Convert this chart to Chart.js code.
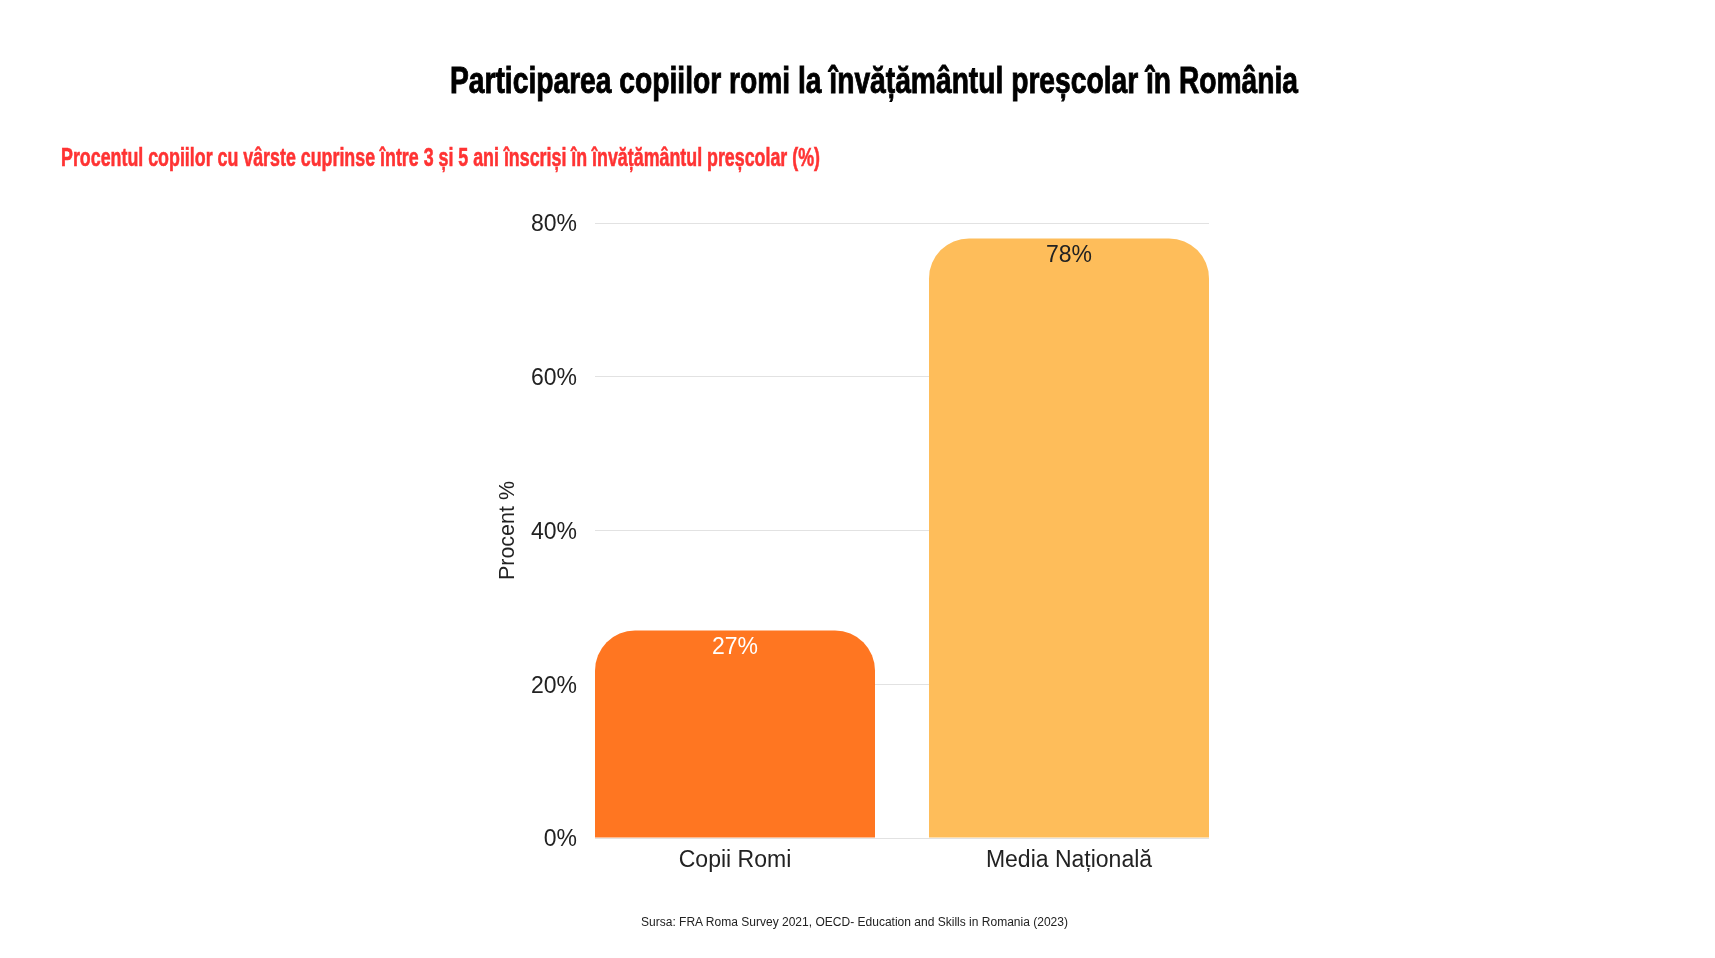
<!DOCTYPE html>
<html>
<head>
<meta charset="utf-8">
<script src="https://cdn.jsdelivr.net/npm/chart.js@4"></script>
<style>
  html, body { margin:0; padding:0; background:#fff; width:1715px; height:958px; overflow:hidden; }
  #wrap { position:relative; width:1715px; height:958px; }
  canvas { position:absolute; left:0; top:0; }
  .txt { position:absolute; white-space:nowrap; transform-origin:0 0; line-height:1; }
  #title { font-family:"Liberation Sans Narrow","Liberation Sans",Arial,sans-serif; font-weight:bold; font-size:37px; color:#000; -webkit-text-stroke:0.9px #000; left:450px; top:62px; }
  #subtitle { font-family:"Liberation Sans Narrow","Liberation Sans",Arial,sans-serif; font-weight:bold; font-size:26px; color:#ff3333; -webkit-text-stroke:0.6px #ff3333; left:61px; top:144px; }
  #source { font-family:"Liberation Sans",Arial,sans-serif; font-size:12.5px; color:#222; left:641px; top:916px; }
</style>
</head>
<body>
<div id="wrap">
  <canvas id="c" width="1715" height="958"></canvas>
  <div id="title" class="txt">Participarea copiilor romi la învățământul preșcolar în România</div>
  <div id="subtitle" class="txt">Procentul copiilor cu vârste cuprinse între 3 și 5 ani înscriși în învățământul preșcolar (%)</div>
  <div id="source" class="txt">Sursa: FRA Roma Survey 2021, OECD- Education and Skills in Romania (2023)</div>
</div>
<script>
// ---- data ----
const categories = ["Copii Romi", "Media Națională"];
const values = [27, 78];
const barColors = ["#ff7621", "#febd5a"];
const labelColors = ["#ffffff", "#222222"];
const yTicks = [0, 20, 40, 60, 80];

// fit header texts to measured widths
function fitWidth(id, target) {
  const el = document.getElementById(id);
  const w = el.getBoundingClientRect().width;
  el.style.transform = 'scaleX(' + (target / w) + ')';
}
fitWidth('title', 848);
fitWidth('subtitle', 759);
fitWidth('source', 427);

const barFrac = 280 / 334;
const half = barFrac / 2;

const valueLabels = {
  id: 'valueLabels',
  afterDatasetsDraw(chart) {
    const ctx = chart.ctx;
    const meta = chart.getDatasetMeta(0);
    ctx.save();
    ctx.font = '23px "Liberation Sans", Arial, sans-serif';
    ctx.textAlign = 'center';
    ctx.textBaseline = 'middle';
    meta.data.forEach((bar, i) => {
      ctx.fillStyle = labelColors[i];
      ctx.fillText(values[i] + '%', bar.x, bar.y + 17);
    });
    ctx.restore();
  }
};

new Chart(document.getElementById('c'), {
  type: 'bar',
  data: {
    datasets: [{
      data: values.map((v, i) => ({ x: i, y: v })),
      backgroundColor: barColors,
      borderWidth: 0,
      borderRadius: 40,
      borderSkipped: 'start',
      categoryPercentage: 1,
      barPercentage: barFrac
    }]
  },
  options: {
    responsive: false,
    animation: false,
    devicePixelRatio: 1,
    layout: { padding: { left: 492, right: 506, top: 223, bottom: 60 } },
    plugins: { legend: { display: false }, tooltip: { enabled: false }, title: { display: false } },
    scales: {
      x: {
        type: 'linear',
        offset: false,
        min: -half,
        max: 1 + half,
        afterBuildTicks: axis => { axis.ticks = categories.map((c, i) => ({ value: i })); },
        afterFit: axis => { axis.height = 60; },
        grid: { display: false },
        border: { display: false },
        ticks: {
          autoSkip: false,
          maxRotation: 0,
          padding: 1,
          color: '#222',
          font: { family: '"Liberation Sans", Arial, sans-serif', size: 23 },
          callback: v => categories[v]
        }
      },
      y: {
        min: 0,
        max: 80,
        afterBuildTicks: axis => { axis.ticks = yTicks.map(v => ({ value: v })); },
        afterFit: axis => { axis.width = 103; },
        grid: { color: '#e2e2e2', lineWidth: 1, drawTicks: false },
        border: { display: false },
        ticks: {
          padding: 18,
          labelOffset: 2,
          color: '#222',
          font: { family: '"Liberation Sans", Arial, sans-serif', size: 23 },
          callback: v => v + '%'
        },
        title: {
          display: true,
          text: 'Procent %',
          color: '#222',
          padding: { top: 3, bottom: 0 },
          font: { family: '"Liberation Sans", Arial, sans-serif', size: 21.5 }
        }
      }
    }
  },
  plugins: [valueLabels]
});
</script>
</body>
</html>
